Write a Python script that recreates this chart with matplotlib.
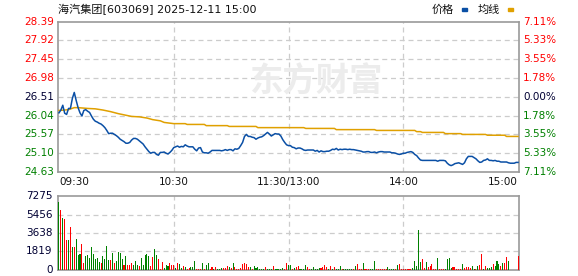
import numpy as np
import matplotlib
matplotlib.use('Agg')
import matplotlib.pyplot as plt
from matplotlib.patches import Rectangle
from matplotlib.transforms import blended_transform_factory

plt.rcParams['font.family'] = ['DejaVu Sans', 'Noto Sans CJK SC']

# Daten (Minutenwerte 09:30 - 15:00)
title = "海汽集团[603069] 2025-12-11 15:00"
prev_close = 26.51
price_ticks = [28.39, 27.92, 27.45, 26.98, 26.51, 26.04, 25.57, 25.10, 24.63]
pct_labels = ["7.11%", "5.33%", "3.55%", "1.78%", "0.00%", "1.78%", "3.55%", "5.33%", "7.11%"]
vol_ticks = [0, 1819, 3638, 5456, 7275]
time_labels = ["09:30", "10:30", "11:30/13:00", "14:00", "15:00"]
time_pos = [0, 60, 120, 180, 240]

prices = [
    26.11, 26.18, 26.30, 26.10, 26.07, 26.22, 26.22, 26.47, 26.62, 26.42,
    26.24, 26.11, 26.03, 26.17, 26.19, 26.15, 26.12, 26.03, 25.95, 25.90,
    25.88, 25.85, 25.83, 25.79, 25.74, 25.67, 25.59, 25.60, 25.60, 25.57,
    25.54, 25.50, 25.45, 25.42, 25.39, 25.35, 25.35, 25.37, 25.43, 25.47,
    25.47, 25.45, 25.41, 25.37, 25.33, 25.26, 25.20, 25.14, 25.10, 25.12,
    25.12, 25.07, 25.05, 25.12, 25.12, 25.13, 25.10, 25.08, 25.12, 25.17,
    25.24,
    25.26, 25.28, 25.25, 25.27, 25.26, 25.31, 25.28, 25.26, 25.26, 25.26,
    25.20, 25.16, 25.23, 25.24, 25.13, 25.11, 25.11, 25.10, 25.13, 25.17,
    25.17, 25.17, 25.17, 25.17, 25.16, 25.17, 25.19, 25.17, 25.19, 25.19,
    25.16, 25.21, 25.20, 25.22, 25.29, 25.37, 25.52, 25.57, 25.52, 25.52,
    25.50, 25.49, 25.45, 25.48, 25.50, 25.51, 25.54, 25.58, 25.62, 25.58,
    25.53, 25.56, 25.59, 25.58, 25.58, 25.53, 25.44, 25.37, 25.31, 25.29,
    25.29, 25.25, 25.24, 25.21, 25.23, 25.23, 25.21, 25.18, 25.17, 25.18,
    25.18, 25.18, 25.18, 25.15, 25.17, 25.13, 25.16, 25.14, 25.14, 25.15,
    25.15, 25.17, 25.20, 25.19, 25.22, 25.18, 25.20, 25.19, 25.20, 25.20,
    25.19, 25.20, 25.19, 25.19, 25.18, 25.17, 25.16, 25.15, 25.13, 25.13,
    25.14, 25.14, 25.12, 25.12, 25.13, 25.11, 25.13, 25.14, 25.14, 25.13,
    25.13, 25.13, 25.13, 25.11, 25.11, 25.10, 25.08, 25.07, 25.08, 25.10,
    25.10, 25.12, 25.13, 25.14, 25.12, 25.07, 25.04, 24.98, 24.93, 24.92,
    24.92, 24.92, 24.92, 24.92, 24.92, 24.92, 24.92, 24.90, 24.92, 24.92,
    24.92, 24.91, 24.85, 24.81, 24.79, 24.81, 24.84, 24.85, 24.86, 24.84,
    24.82, 24.86, 24.96, 25.02, 25.02, 25.02, 24.99, 24.96, 24.91, 24.87,
    24.88, 24.92, 24.93, 24.96, 24.92, 24.92, 24.91, 24.92, 24.90, 24.90,
    24.88, 24.88, 24.88, 24.88, 24.86, 24.85, 24.85, 24.85, 24.87, 24.87,
]

avg_min = [0, 3, 5, 8, 10, 15, 19, 23, 27, 31, 34, 38, 42, 46, 49, 53, 55, 60,
           66, 67, 76, 77, 88, 89, 103, 104, 120, 128, 129, 144, 145, 165, 166,
           180, 186, 187, 189, 190, 201, 202, 210, 211, 223, 224, 233, 234, 240]
avg_val = [26.17, 26.18, 26.19, 26.24, 26.24, 26.22, 26.21, 26.18, 26.14, 26.09,
           26.06, 26.02, 26.01, 25.98, 25.94, 25.91, 25.87, 25.84, 25.84, 25.82,
           25.82, 25.79, 25.79, 25.77, 25.77, 25.74, 25.74, 25.74, 25.72, 25.72,
           25.69, 25.69, 25.67, 25.67, 25.67, 25.64, 25.64, 25.62, 25.62, 25.59,
           25.59, 25.57, 25.57, 25.55, 25.55, 25.52, 25.52]

volume = [
    6713, 5919, 5126, 5027, 2943, 2943, 4233, 2249, 2249, 3042,
    1455, 1554, 2546, 661, 1356, 1455, 1157, 2249, 1554, 1058,
    1157, 760, 661, 1356, 1058, 2348, 959, 959, 1653, 661,
    860, 1753, 1653, 1058, 463, 1356, 463, 463, 661, 463,
    860, 463, 364, 1157, 463, 1455, 1554, 1356, 364, 1257,
    2050, 1455, 1058, 100, 760, 200, 463, 364, 661, 463,
    463, 200, 661, 562, 200, 364, 265, 100, 200, 265,
    265, 860, 100, 100, 100, 661, 100, 463, 661, 100,
    265, 100, 265, 100, 100, 200, 200, 200, 364, 265,
    200, 661, 265, 100, 100, 200, 562, 661, 562, 265,
    265, 100, 364, 200, 265, 100, 100, 100, 265, 100,
    100, 100, 364, 100, 100, 100, 100, 200, 100, 661,
    463,
    492, 100, 200, 262, 394, 100, 100, 100, 492, 262,
    100, 100, 262, 100, 100, 200, 200, 262, 492, 262,
    100, 394, 100, 262, 100, 100, 394, 100, 100, 100,
    100, 100, 100, 100, 394, 590, 100, 100, 689, 100,
    100, 100, 100, 100, 886, 100, 100, 100, 100, 100,
    100, 262, 100, 100, 100, 100, 492, 590, 100, 100,
    100, 100, 100, 100, 200, 886, 394, 3936, 787, 1082,
    200, 787, 262, 394, 590, 100, 100, 1181, 100, 100,
    100, 100, 1082, 1181, 200, 300, 300, 100, 100, 100,
    590, 200, 300, 300, 200, 394, 100, 100, 394, 492,
    1574, 100, 394, 200, 200, 300, 590, 394, 886, 590,
    394, 689, 689, 1279, 886, 0, 0, 0, 0, 1377,
]
# 1 = rot (steigend), 0 = gruen (fallend)
vol_up = [
    0, 1, 0, 1, 1, 0, 1, 0, 1, 0,
    0, 0, 1, 1, 0, 0, 0, 0, 0, 0,
    0, 0, 1, 0, 0, 0, 0, 1, 0, 1,
    0, 0, 0, 0, 1, 0, 1, 1, 1, 0,
    0, 0, 1, 0, 0, 0, 0, 0, 1, 1,
    0, 0, 1, 1, 1, 0, 0, 0, 1, 1,
    1, 0, 1, 0, 0, 1, 0, 1, 1, 0,
    0, 0, 1, 1, 1, 0, 1, 0, 0, 1,
    1, 0, 1, 0, 0, 0, 1, 1, 1, 0,
    1, 0, 1, 1, 1, 1, 1, 1, 1, 1,
    0, 1, 0, 0, 0, 0, 0, 0, 1, 0,
    0, 0, 1, 0, 0, 0, 0, 0, 1, 1,
    0,
    0, 1, 0, 1, 1, 0, 0, 0, 0, 1,
    1, 0, 0, 0, 0, 0, 1, 1, 1, 1,
    0, 1, 0, 1, 0, 0, 0, 1, 0, 0,
    0, 0, 0, 1, 0, 1, 1, 1, 0, 1,
    1, 1, 0, 0, 0, 1, 1, 1, 1, 1,
    1, 0, 0, 0, 0, 1, 0, 1, 1, 1,
    1, 1, 1, 1, 0, 0, 0, 0, 0, 1,
    1, 0, 1, 1, 1, 1, 1, 0, 1, 1,
    1, 0, 0, 0, 0, 1, 1, 1, 1, 1,
    0, 1, 1, 1, 1, 0, 0, 1, 0, 1,
    1, 0, 1, 0, 0, 0, 1, 0, 0, 0,
    1, 0, 1, 1, 0, 1, 1, 1, 1, 1,
]

W, H = 578, 276
fig = plt.figure(figsize=(W / 100, H / 100), dpi=100)
fig.patch.set_facecolor('white')


def px_axes(x0, y0, x1, y1):
    return fig.add_axes([x0 / W, 1 - y1 / H, (x1 - x0) / W, (y1 - y0) / H])


ax = px_axes(58, 21.7, 519, 172)
axv = px_axes(58, 196, 519, 270)

RED = '#ff0000'
GREEN = '#008000'
NAVY = '#000033'
grid_kw = dict(color='#cccccc', linestyle=(0, (4, 3)), linewidth=0.9, zorder=0)

minutes = np.arange(len(prices))

for a in (ax, axv):
    a.set_xlim(-0.5, 240.5)
    a.set_xticks([])
    a.set_yticks([])
    for s in a.spines.values():
        s.set_color('#999999')
        s.set_linewidth(1.2)
    for t in time_pos[1:-1]:
        a.axvline(t, **grid_kw)

# Preis
ax.set_ylim(price_ticks[-1], price_ticks[0])
for p in price_ticks[1:-1]:
    ax.axhline(p, **grid_kw)
ax.plot(avg_min, avg_val, color='#e0a000', lw=1.1, zorder=3)
ax.plot(minutes, prices, color='#0a4fa5', lw=1.1, zorder=4)

# Wasserzeichen
ax.text(0.56, 0.6, "东方财富", transform=ax.transAxes, ha='center', va='center',
        fontsize=24, fontweight='bold', color='#ececec', zorder=1,
        family=['Noto Sans CJK SC'])

tr_l = blended_transform_factory(ax.transAxes, ax.transData)
for i, (p, lab) in enumerate(zip(price_ticks, pct_labels)):
    if p > prev_close + 0.001:
        c = RED
    elif p < prev_close - 0.001:
        c = GREEN
    else:
        c = NAVY
    ax.text(-0.008, p, f"{p:.2f}", transform=tr_l, ha='right', va='center',
            fontsize=7.5, color=c)
    ax.text(1.009, p, lab, transform=tr_l, ha='left', va='center',
            fontsize=7.5, color=c)

tr_x = blended_transform_factory(ax.transData, ax.transAxes)
for t, lab in zip(time_pos, time_labels):
    ha = 'left' if t == 0 else ('right' if t == 240 else 'center')
    ax.text(t, -0.035, lab, transform=tr_x, ha=ha, va='top', fontsize=7.5,
            color='#111111')

# Volumen
axv.set_ylim(0, vol_ticks[-1])
for v in vol_ticks[1:-1]:
    axv.axhline(v, **grid_kw)
colors = [RED if u else GREEN for u in vol_up]
axv.bar(minutes, volume, width=0.55, color=colors, zorder=3)
tr_v = blended_transform_factory(axv.transAxes, axv.transData)
for v in vol_ticks:
    axv.text(-0.012, v, str(v), transform=tr_v, ha='right', va='center',
             fontsize=7.5, color=NAVY)

# Titel und Legende
fig.text(58 / W, 1 - 9 / H, title, ha='left', va='center', fontsize=8, color='#111111')
fig.text(432 / W, 1 - 10 / H, "价格", ha='left', va='center', fontsize=8, color='#111111')
fig.text(478 / W, 1 - 10 / H, "均线", ha='left', va='center', fontsize=8, color='#111111')
fig.add_artist(Rectangle((462 / W, 1 - 11 / H), 5 / W, 3 / H, color='#0a4fa5',
                         transform=fig.transFigure))
fig.add_artist(Rectangle((508 / W, 1 - 11 / H), 5 / W, 3 / H, color='#e0a000',
                         transform=fig.transFigure))

fig.savefig('out.png', dpi=100)
